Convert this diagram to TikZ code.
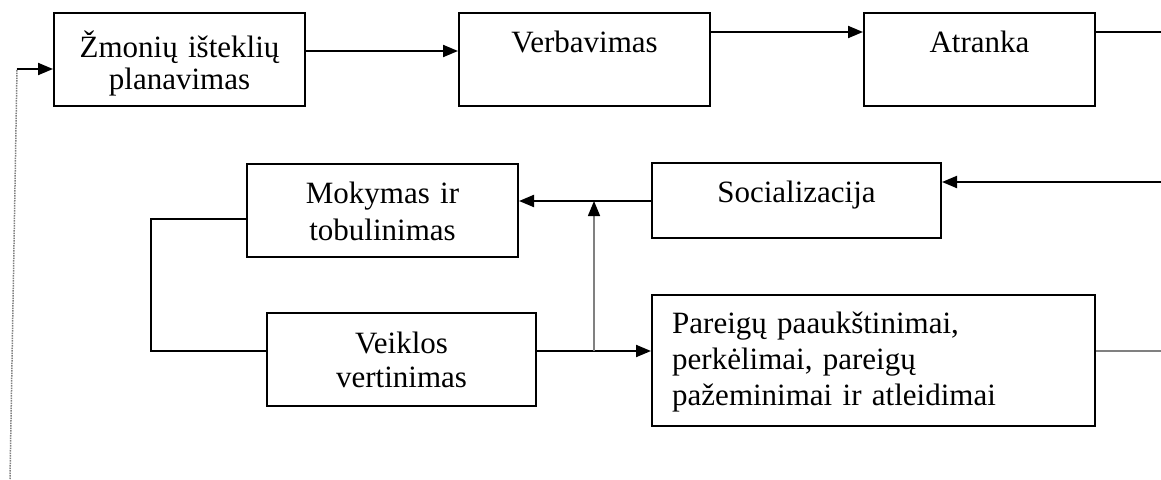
\documentclass[tikz,border=0pt]{standalone}
\usepackage{fontspec}
\setmainfont{Liberation Serif}
\usetikzlibrary{arrows.meta,calc}

\begin{document}
\begin{tikzpicture}[x=1pt,y=-1pt,
  box/.style={draw=black, line width=2pt, inner sep=0pt},
  lbl/.style={inner sep=0pt, font=\fontsize{31}{34}\selectfont},
  tip/.style={-{Triangle[length=15pt,width=12pt,color=black]}},
  arr/.style={line width=2pt, tip},
  ln/.style={line width=2pt},
  gln/.style={line width=1.5pt, draw=gray}
]
\useasboundingbox (0,0) rectangle (1161,479);

% process boxes
\node[box, minimum width=251pt, minimum height=93pt] (b1) at (179.5,59.5) {};
\node[box, minimum width=251pt, minimum height=93pt] (b2) at (584.5,59.5) {};
\node[box, minimum width=231pt, minimum height=93pt] (b3) at (979.5,59.5) {};
\node[box, minimum width=289pt, minimum height=75pt] (b4) at (796.5,200.5) {};
\node[box, minimum width=271pt, minimum height=93pt] (b5) at (382.5,210.5) {};
\node[box, minimum width=269pt, minimum height=93pt] (b6) at (401.5,359.5) {};
\node[box, minimum width=443pt, minimum height=131pt] (b7) at (873.5,360.5) {};

% box labels
\node[lbl, text width=240pt, align=center, anchor=base, font=\fontsize{31}{32}\selectfont] (t1) at (179.5,57) {Žmonių išteklių\\planavimas};
\node[lbl, anchor=base] (t2) at (584.5,52) {Verbavimas};
\node[lbl, anchor=base] (t3) at (979.5,52) {Atranka};
\node[lbl, anchor=base] (t4) at (796.5,202) {Socializacija};
\node[lbl, text width=260pt, align=center, anchor=base, font=\fontsize{31}{37}\selectfont] (t5) at (382.5,203) {Mokymas ir\\tobulinimas};
\node[lbl, text width=260pt, align=center, anchor=base, font=\fontsize{31}{34}\selectfont] (t6) at (401.5,353) {Veiklos\\vertinimas};
\node[lbl, text width=420pt, align=left, anchor=base west, font=\fontsize{31}{36}\selectfont] (t7) at (672,333) {Pareigų paaukštinimai,\\perkėlimai, pareigų\\pažeminimai ir atleidimai};

% connector points
\coordinate (outA) at (1161,32);
\coordinate (inS) at (1161,182);
\coordinate (jn) at (594,201);
\coordinate (jv) at (594,351);
\coordinate (lc1) at (151,219);
\coordinate (lc2) at (151,351);
\coordinate (outP) at (1161,351);
\coordinate (fb0) at (10,479);
\coordinate (fb1) at (17,69);

% top row
\draw[arr] (b1.east |- 0,51) -- (b2.west |- 0,51);
\draw[arr] (b2.east |- outA) -- (b3.west |- outA);
\draw[ln] (b3.east |- outA) -- (outA);

% middle row
\draw[arr] (inS) -- (b4.east |- inS);
\draw[arr] (b4.west |- jn) -- (b5.east |- jn);

% loop between training and appraisal
\draw[ln] (b5.west |- lc1) -- (lc1) -- (lc2) -- (b6.west |- lc2);

% bottom row
\draw[arr] (b6.east |- jv) -- (b7.west |- jv);
\draw[gln, tip] (jv) -- (jn);
\draw[gln] (b7.east |- outP) -- (outP);

% feedback to planning
\draw[gray, line width=1.5pt, densely dotted] (fb0) -- (fb1);
\draw[arr] (fb1) -- (b1.west |- fb1);
\end{tikzpicture}
\end{document}
